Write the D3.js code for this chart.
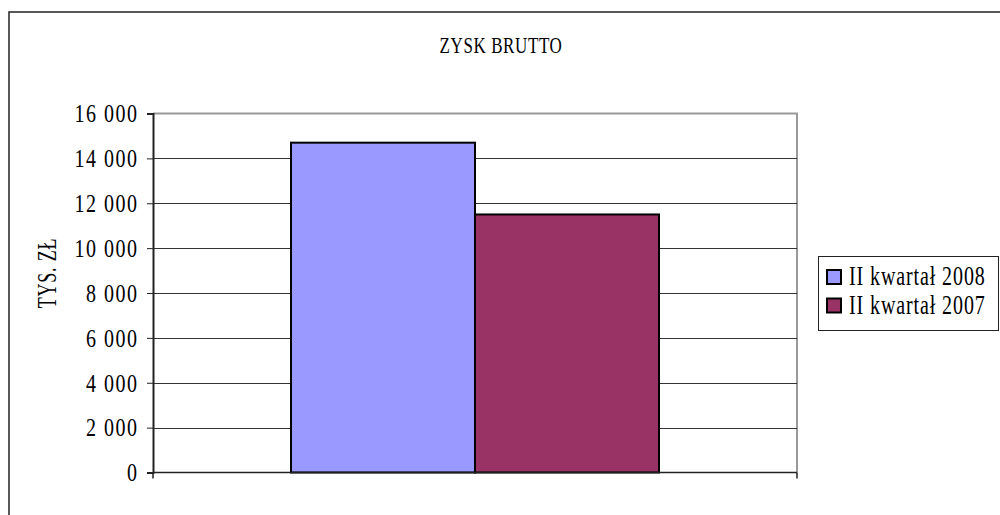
<!DOCTYPE html>
<html lang="pl">
<head>
  <meta charset="UTF-8">
  <title>Zysk brutto</title>
  <script src="https://d3js.org/d3.v7.min.js"></script>
  <style>
    body { margin: 0; background: #fff; }
  </style>
</head>
<body>
  <svg width="1000" height="515"></svg>
  <script>
    const title = "ZYSK BRUTTO";
    const yLabel = "TYS. ZŁ";
    const seriesNames = ["II kwartał 2008", "II kwartał 2007"];
    const seriesValues = [14700, 11500];
    const seriesColors = ["#9999ff", "#993366"];
    const yTicks = [0, 2000, 4000, 6000, 8000, 10000, 12000, 14000, 16000];

    const serif = "'Liberation Serif'";
    const svg = d3.select("svg");
    const plot = { left: 153, right: 797, top: 113.5, bottom: 472.5 };

    // outer chart border (runs off the right and bottom edge)
    svg.append("rect")
      .attr("x", 9).attr("y", 12)
      .attr("width", 1010).attr("height", 520)
      .attr("fill", "none").attr("stroke", "#222").attr("stroke-width", 1.5);

    // text in the original is narrow and tall, with loose spacing
    svg.append("text")
      .attr("transform", "translate(501,53) scale(1,1.4)")
      .attr("text-anchor", "middle")
      .style("font-family", serif)
      .style("font-size", "17px")
      .style("letter-spacing", "0.6px")
      .text(title);

    const y = d3.scaleLinear().domain([0, 16000]).range([plot.bottom, plot.top]);
    const x = d3.scaleBand().domain(seriesNames)
      .range([plot.left, plot.right]).paddingInner(0).paddingOuter(0.75);

    // plot area frame (gray top/right)
    svg.append("path")
      .attr("d", `M${plot.left},${plot.top}H${plot.right}V${plot.bottom}`)
      .attr("fill", "none").attr("stroke", "#999").attr("stroke-width", 2);

    // gridlines
    svg.append("g").selectAll("line")
      .data(yTicks.filter(d => d > 0 && d < 16000))
      .join("line")
      .attr("x1", plot.left).attr("x2", plot.right)
      .attr("y1", d => Math.round(y(d)) + 0.5).attr("y2", d => Math.round(y(d)) + 0.5)
      .attr("stroke", "#333").attr("stroke-width", 1);

    // bars
    svg.append("g").selectAll("rect")
      .data(seriesNames)
      .join("rect")
      .attr("x", d => x(d))
      .attr("y", (d, i) => y(seriesValues[i]))
      .attr("width", x.bandwidth())
      .attr("height", (d, i) => y(0) - y(seriesValues[i]))
      .attr("fill", (d, i) => seriesColors[i])
      .attr("stroke", "#000").attr("stroke-width", 2);

    // y axis
    const fmt = d => d3.format(",")(d).replace(/,/g, " ");
    const yAxis = svg.append("g")
      .attr("transform", `translate(${plot.left},0)`)
      .call(d3.axisLeft(y).tickValues(yTicks).tickFormat(fmt).tickSize(6).tickPadding(8.5));
    yAxis.select(".domain").attr("stroke", "#222").attr("stroke-width", 2);
    yAxis.selectAll(".tick line").attr("stroke", "#222");
    yAxis.selectAll(".tick text")
      .attr("fill", "#000")
      .attr("transform", "scale(1,1.3)")
      .style("font-family", serif)
      .style("font-size", "20px")
      .style("letter-spacing", "1.5px");

    // x axis line with end ticks
    svg.append("path")
      .attr("d", `M${plot.left},${plot.bottom}H${plot.right}M${plot.left},${plot.bottom}V${plot.bottom + 6}M${plot.right},${plot.bottom}V${plot.bottom + 6}`)
      .attr("fill", "none").attr("stroke", "#222").attr("stroke-width", 1.5);

    svg.append("text")
      .attr("transform", "translate(56,273) rotate(-90) scale(1,1.5)")
      .attr("text-anchor", "middle")
      .style("font-family", serif)
      .style("font-size", "18px")
      .style("letter-spacing", "0.8px")
      .text(yLabel);

    // legend
    const legend = svg.append("g");
    legend.append("rect")
      .attr("x", 818.5).attr("y", 256.5).attr("width", 180).attr("height", 74)
      .attr("fill", "#fff").attr("stroke", "#222").attr("stroke-width", 1);
    const items = legend.selectAll("g.item")
      .data(seriesNames)
      .join("g").attr("class", "item")
      .attr("transform", (d, i) => `translate(827,${270 + i * 28.5})`);
    items.append("rect")
      .attr("width", 14).attr("height", 14)
      .attr("fill", (d, i) => seriesColors[i])
      .attr("stroke", "#000").attr("stroke-width", 2);
    items.append("text")
      .attr("transform", "translate(22,15) scale(1,1.34)")
      .style("font-family", serif)
      .style("font-size", "20px")
      .style("letter-spacing", "0.9px")
      .text(d => d);
  </script>
</body>
</html>
